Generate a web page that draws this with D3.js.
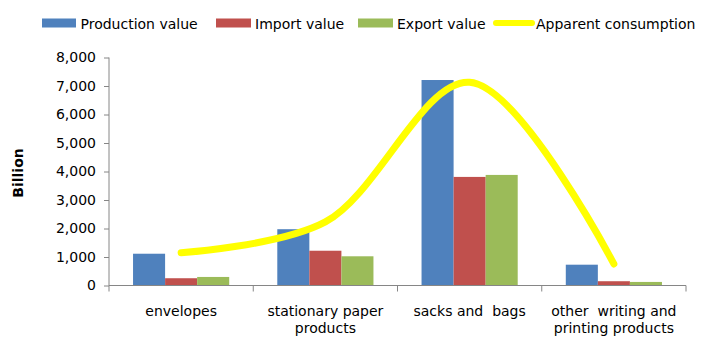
<!DOCTYPE html>
<html>
<head>
<meta charset="utf-8">
<script src="https://cdn.jsdelivr.net/npm/d3@7"></script>
<style>
  html, body { margin: 0; padding: 0; background: #fff; }
  svg { display: block; }
  text { font-family: "DejaVu Sans", Verdana, sans-serif; fill: #000; }
</style>
</head>
<body>
<svg id="chart" width="702" height="338"></svg>
<script>
const categories = ["envelopes", "stationary paper products", "sacks and  bags", "other  writing and printing products"];
const categoryLines = [["envelopes"], ["stationary paper", "products"], ["sacks and  bags"], ["other  writing and", "printing products"]];
const seriesNames = ["Production value", "Import value", "Export value"];
const productionValue = [1115, 1975, 7210, 730];
const importValue = [255, 1220, 3810, 150];
const exportValue = [300, 1025, 3880, 125];
const apparentConsumption = [1150, 2230, 7130, 755];
const lineName = "Apparent consumption";
const yTicks = [0, 1000, 2000, 3000, 4000, 5000, 6000, 7000, 8000];
const yTitle = "Billion";

const colors = ["#4F81BD", "#C0504D", "#9BBB59"];
const lineColor = "#FFFF00";
const axisColor = "#868686";

const svg = d3.select("#chart");
const plotLeft = 109, plotRight = 686, plotTop = 57.5, plotBottom = 285.5;

const x0 = d3.scaleBand().domain(categories).range([plotLeft, plotRight]).paddingInner(0).paddingOuter(0);
const x1 = d3.scaleBand().domain(seriesNames).range([0, x0.bandwidth()]).paddingInner(0).paddingOuter(0.75);
const y = d3.scaleLinear().domain([0, 8000]).range([plotBottom, plotTop]);

const seriesValues = [productionValue, importValue, exportValue];

// bars
seriesNames.forEach((s, si) => {
  svg.append("g").selectAll("rect")
    .data(categories.map((c, i) => ({ c, v: seriesValues[si][i] })))
    .join("rect")
    .attr("x", d => x0(d.c) + x1(s))
    .attr("width", x1.bandwidth())
    .attr("y", d => y(d.v))
    .attr("height", d => y(0) - y(d.v))
    .attr("fill", colors[si]);
});

// y axis
const yAxis = d3.axisLeft(y).tickValues(yTicks).tickSize(5).tickPadding(8)
  .tickFormat(d3.format(","));
const gy = svg.append("g").attr("transform", `translate(${plotLeft},0)`).call(yAxis);
gy.select(".domain").attr("stroke", axisColor).attr("d", `M0,${plotTop}V${plotBottom}`);
gy.selectAll(".tick line").attr("stroke", axisColor);
gy.selectAll(".tick text").style("font-size", "14px").attr("fill", "#000").attr("font-family", "DejaVu Sans");

// x axis
const gx = svg.append("g").attr("transform", `translate(0,${plotBottom})`);
gx.append("line").attr("x1", plotLeft).attr("x2", plotRight).attr("y1", 0).attr("y2", 0).attr("stroke", axisColor);
const boundaries = categories.map(c => x0(c)).concat([x0(categories[categories.length - 1]) + x0.bandwidth()]);
gx.selectAll("line.tk").data(boundaries).join("line").attr("class", "tk")
  .attr("x1", d => d).attr("x2", d => d).attr("y1", 0).attr("y2", 6).attr("stroke", axisColor);

categories.forEach((c, i) => {
  const t = gx.append("text")
    .attr("x", x0(c) + x0.bandwidth() / 2)
    .attr("text-anchor", "middle")
    .style("font-size", "14px")
    .style("white-space", "pre")
    .attr("xml:space", "preserve");
  categoryLines[i].forEach((ln, k) => {
    t.append("tspan").attr("x", x0(c) + x0.bandwidth() / 2).attr("y", 30 + k * 17).text(ln);
  });
});

// y title
svg.append("text")
  .attr("transform", `translate(23,173) rotate(-90)`)
  .attr("text-anchor", "middle")
  .style("font-size", "14px")
  .style("font-weight", "bold")
  .text(yTitle);

// line
const line = d3.line()
  .x((d, i) => x0(categories[i]) + x0.bandwidth() / 2)
  .y(d => y(d))
  .curve(d3.curveCatmullRom.alpha(0.5));
svg.append("path")
  .attr("d", line(apparentConsumption))
  .attr("fill", "none")
  .attr("stroke", lineColor)
  .attr("stroke-width", 7)
  .attr("stroke-linecap", "round")
  .attr("stroke-linejoin", "round");

// legend
const legendY = 23;
const legendItems = [
  { name: seriesNames[0], type: "rect", color: colors[0], x0: 42, x1: 76, tx: 80.5 },
  { name: seriesNames[1], type: "rect", color: colors[1], x0: 216, x1: 251, tx: 255 },
  { name: seriesNames[2], type: "rect", color: colors[2], x0: 358, x1: 393, tx: 397 },
  { name: lineName, type: "line", color: lineColor, x0: 496, x1: 532, tx: 536 }
];
const lg = svg.append("g");
legendItems.forEach(it => {
  if (it.type === "rect") {
    lg.append("rect").attr("x", it.x0).attr("y", legendY - 4.5).attr("width", it.x1 - it.x0).attr("height", 9).attr("fill", it.color);
  } else {
    lg.append("line").attr("x1", it.x0).attr("x2", it.x1).attr("y1", legendY).attr("y2", legendY)
      .attr("stroke", it.color).attr("stroke-width", 6).attr("stroke-linecap", "round");
  }
  lg.append("text").attr("x", it.tx).attr("y", legendY + 5.5).style("font-size", "14px").attr("fill", "#000").text(it.name);
});
</script>
</body>
</html>
